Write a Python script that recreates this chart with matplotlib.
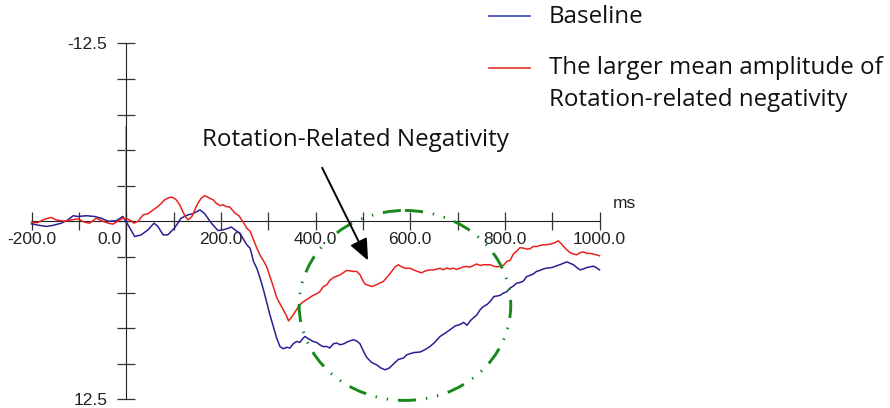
import numpy as np
import matplotlib.pyplot as plt
from matplotlib.lines import Line2D
from matplotlib.patches import Ellipse
from matplotlib.transforms import ScaledTranslation

# ERP waveforms (ms, µV); negative is plotted upward
baseline_t = [-200, -186, -169, -155, -137, -123, -112, -102, -84, -67, -53, -38, -21, -7,
              4, 18, 32, 46, 59, 67, 78, 88, 102, 116, 131, 141, 156, 166, 180, 194, 204,
              215, 222, 232, 240, 255, 262, 269, 276, 283, 290, 297, 304, 311, 318, 325,
              332, 339, 346, 353, 360, 367, 374, 378, 385, 395, 402, 409, 416, 424, 430,
              438, 445, 452, 460, 469, 480, 487, 494, 501, 508, 518, 529, 538, 547, 556,
              564, 575, 586, 593, 607, 621, 632, 642, 652, 663, 674, 684, 695, 705, 713,
              720, 728, 741, 748, 755, 762, 769, 777, 783, 790, 797, 804, 811, 818, 825,
              832, 839, 846, 853, 860, 867, 874, 881, 888, 899, 910, 920, 931, 938, 945,
              952, 959, 966, 973, 980, 987, 993, 1000]
baseline_uv = [0.18, 0.27, 0.36, 0.29, 0.13, -0.10, -0.39, -0.34, -0.39, -0.34, -0.22, 0.0,
               -0.04, -0.34, 0.25, 1.07, 0.95, 0.60, 0.13, 0.36, 0.95, 0.95, 0.48, -0.22,
               -0.46, -0.53, -0.80, -0.53, 0.13, 0.65, 0.60, 0.50, 0.40, 0.65, 0.83, 1.65,
               1.90, 2.82, 3.30, 4.00, 4.80, 5.70, 6.60, 7.40, 8.20, 8.80, 8.95, 8.85, 8.90,
               8.60, 8.44, 8.50, 8.20, 8.09, 8.25, 8.44, 8.50, 8.67, 8.80, 8.79, 8.90, 8.60,
               8.55, 8.67, 8.60, 8.44, 8.32, 8.40, 8.60, 9.10, 9.55, 9.90, 10.08, 10.30,
               10.43, 10.30, 10.05, 9.70, 9.60, 9.37, 9.22, 9.18, 9.00, 8.79, 8.50, 8.09,
               7.85, 7.62, 7.35, 7.25, 7.10, 7.30, 6.95, 6.57, 6.20, 5.98, 5.85, 5.63, 5.28,
               5.25, 5.20, 5.04, 4.95, 4.69, 4.55, 4.34, 4.30, 4.20, 3.88, 3.80, 3.70, 3.52,
               3.45, 3.35, 3.29, 3.25, 3.12, 3.00, 2.85, 2.95, 3.05, 3.25, 3.41, 3.35, 3.25,
               3.20, 3.15, 3.25, 3.41]

rrn_t = [-200, -193, -186, -176, -167, -158, -148, -139, -130, -123, -116, -102, -95, -88,
         -77, -70, -63, -53, -45, -38, -28, -21, -14, -7, 4, 10, 16, 25, 36, 46, 57, 67, 74,
         81, 88, 95, 100, 106, 113, 118, 124, 131, 139, 148, 154, 159, 166, 176, 184, 190,
         198, 205, 211, 219, 230, 238, 244, 250, 255, 262, 269, 276, 283, 290, 297, 304,
         311, 318, 325, 332, 338, 343, 348, 353, 360, 367, 374, 381, 388, 395, 402, 409,
         416, 424, 430, 438, 445, 452, 459, 466, 473, 480, 487, 494, 499, 505, 512, 519,
         526, 535, 543, 552, 561, 568, 575, 582, 590, 600, 607, 614, 624, 631, 640, 649,
         656, 663, 670, 677, 684, 691, 698, 705, 712, 719, 726, 733, 740, 748, 755, 762,
         769, 776, 783, 790, 797, 804, 811, 818, 825, 832, 839, 846, 853, 860, 867, 874,
         881, 888, 899, 906, 913, 920, 924, 931, 938, 945, 952, 959, 966, 973, 980, 987,
         993, 1000]
rrn_uv = [0.06, 0.10, 0.08, -0.10, -0.20, -0.27, -0.10, -0.05, 0.0, -0.05, -0.10, -0.17,
          -0.05, 0.06, 0.13, -0.05, -0.22, -0.06, 0.05, 0.13, 0.20, 0.06, -0.10, -0.22,
          -0.15, -0.05, 0.13, 0.0, -0.46, -0.53, -0.80, -1.04, -1.25, -1.50, -1.62, -1.70,
          -1.65, -1.50, -1.16, -0.80, -0.39, -0.10, -0.34, -1.04, -1.40, -1.63, -1.80,
          -1.63, -1.50, -1.28, -1.10, -1.16, -1.04, -1.00, -0.57, -0.40, -0.10, 0.20, 0.50,
          0.70, 1.30, 1.88, 2.40, 2.76, 3.20, 3.90, 4.60, 5.35, 5.80, 6.21, 6.60, 6.99,
          6.80, 6.57, 6.20, 5.86, 5.65, 5.51, 5.35, 5.20, 5.10, 4.95, 4.60, 4.46, 4.15,
          3.95, 3.85, 3.76, 3.60, 3.45, 3.48, 3.52, 3.52, 3.75, 4.10, 4.41, 4.50, 4.58,
          4.50, 4.35, 4.23, 3.90, 3.52, 3.20, 3.05, 3.20, 3.30, 3.30, 3.41, 3.50, 3.62,
          3.50, 3.42, 3.41, 3.36, 3.30, 3.40, 3.29, 3.35, 3.29, 3.38, 3.30, 3.20, 3.17,
          3.22, 3.12, 3.00, 3.10, 3.05, 3.05, 3.05, 3.15, 3.20, 3.17, 3.10, 2.82, 2.75,
          2.30, 2.10, 1.85, 1.88, 1.95, 1.93, 1.77, 1.77, 1.70, 1.65, 1.65, 1.58, 1.50,
          1.37, 1.60, 1.77, 2.00, 2.20, 2.30, 2.35, 2.20, 2.15, 2.25, 2.25, 2.30, 2.35,
          2.42]

x_ticks = np.arange(-200, 1001, 100)
x_labels = ["-200.0", "", "0.0", "", "200.0", "", "400.0", "", "600.0", "", "800.0", "", "1000.0"]
y_ticks = np.arange(-12.5, 12.51, 2.5)
y_labels = ["-12.5", "", "", "", "", "", "", "", "", "", "12.5"]

# highlighted window (ms / µV) and arrow
window_center = (589, 5.91)
window_size = (447, 13.34)
arrow_tail = (414, -3.76)
arrow_tip = (511, 2.75)

blue = "#2b1f94"
red = "#e8231f"
green = "#16891a"
label_font = ["Open Sans", "DejaVu Sans"]
label_size = 17.4

plt.rcParams["font.family"] = ["Liberation Sans", "DejaVu Sans"]

fig = plt.figure(figsize=(8.9, 4.08), dpi=100)
ax = fig.add_axes([31.5 / 890, 1 - 399.3 / 408, 568 / 890, 356 / 408])

ax.plot(baseline_t, baseline_uv, color=blue, lw=1.1, clip_on=False, zorder=3)
ax.plot(rrn_t, rrn_uv, color=red, lw=1.1, clip_on=False, zorder=3)

ax.set_xlim(-200, 1000)
ax.set_ylim(12.5, -12.5)

for side in ["top", "right"]:
    ax.spines[side].set_visible(False)
ax.spines["left"].set_position(("data", 0))
ax.spines["bottom"].set_position(("data", 0))
ax.spines["left"].set_color("#222222")
ax.spines["bottom"].set_color("#222222")
# gray stimulus-onset marker over the y axis
ax.plot([0, 0], [-6.6, 2.5], color="#a0a0a0", lw=1.3, zorder=2.5)

ax.set_xticks(x_ticks)
ax.set_xticklabels(x_labels)
ax.set_yticks(y_ticks)
ax.set_yticklabels(y_labels)
ax.tick_params(axis="both", direction="inout", length=13, width=0.9, color="#333333",
               labelsize=12.5, labelcolor="#222222")
ax.tick_params(axis="x", pad=1.5)
ax.tick_params(axis="y", pad=7)

# shift "0.0" left so it clears the y axis
zero_label = ax.get_xticklabels()[2]
zero_label.set_transform(zero_label.get_transform() + ScaledTranslation(-0.17, 0, fig.dpi_scale_trans))

ax.text(1028, -1.23, "ms", fontsize=12.5, color="#222222", ha="left", va="center")

ax.add_patch(Ellipse(window_center, window_size[0], window_size[1], fill=False,
                     edgecolor=green, lw=2.1, linestyle=(0, (6.2, 3.4, 0.5, 3.4, 0.5, 3.4)),
                     clip_on=False, zorder=4))

ax.annotate("", xy=arrow_tip, xytext=arrow_tail,
            arrowprops=dict(arrowstyle="-|>,head_length=0.65,head_width=0.28",
                            color="black", lw=1.4, mutation_scale=20, shrinkA=0, shrinkB=0),
            zorder=5)
ax.text(485, -5.72, "Rotation-Related Negativity", family=label_font, fontsize=label_size,
        ha="center", va="center", color="#111111")

# legend
fig.add_artist(Line2D([489 / 890, 530 / 890], [1 - 16 / 408, 1 - 16 / 408], color="#3040b8", lw=1.2))
fig.add_artist(Line2D([489 / 890, 530 / 890], [1 - 68 / 408, 1 - 68 / 408], color="#e03028", lw=1.2))
fig.text(549 / 890, 1 - 17 / 408, "Baseline", family=label_font, fontsize=label_size,
         ha="left", va="center", color="#111111")
fig.text(549 / 890, 1 - 84 / 408, "The larger mean amplitude of\nRotation-related negativity",
         family=label_font, fontsize=label_size, ha="left", va="center", color="#111111",
         linespacing=1.45)

fig.savefig("out.png", dpi=100)
